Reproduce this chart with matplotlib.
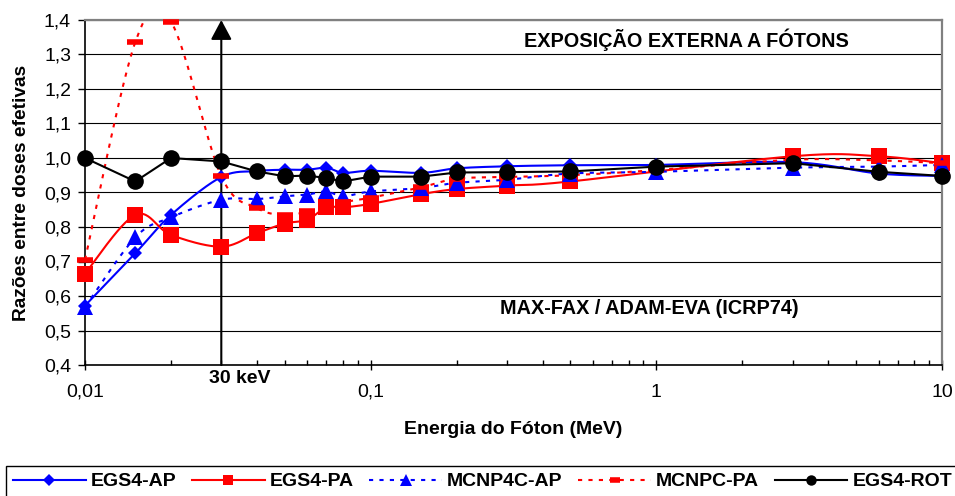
import numpy as np
import matplotlib
matplotlib.use('Agg')
import matplotlib.pyplot as plt
from matplotlib.lines import Line2D
from matplotlib.ticker import FixedLocator, LogLocator, FuncFormatter, NullFormatter

plt.rcParams['font.family'] = ['Liberation Sans', 'DejaVu Sans']

# photon energies (MeV)
energies = [0.01, 0.015, 0.02, 0.03, 0.04, 0.05, 0.06, 0.07, 0.08, 0.1,
            0.15, 0.2, 0.3, 0.5, 1, 3, 6, 10]

# dose ratios per series (nan = no value at that energy)
egs4_ap = [0.572, 0.724, 0.835, 0.945, 0.962, 0.966, 0.966, 0.972, 0.957, 0.963,
           0.957, 0.970, 0.976, 0.979, 0.980, 0.988, 0.955, 0.948]
egs4_pa = [0.665, 0.835, 0.777, 0.743, 0.782, 0.810, 0.821, 0.857, 0.857, 0.867,
           0.895, 0.910, 0.920, 0.932, np.nan, 1.005, 1.005, 0.985]
mcnp4c_ap = [0.568, 0.770, 0.828, 0.879, 0.881, 0.889, 0.894, 0.903, 0.889, 0.903,
             0.913, 0.928, 0.937, 0.955, 0.960, 0.972, 0.975, 0.980]
mcnpc_pa = [0.705, 1.336, 1.395, 0.947, 0.855, 0.835, 0.845, 0.865, 0.872, 0.885,
            0.915, 0.940, 0.945, 0.950, 0.965, 0.995, 0.993, 0.985]
egs4_rot = [1.000, 0.932, 1.000, 0.990, 0.961, 0.947, 0.949, 0.942, 0.932, 0.946,
            0.946, 0.958, 0.959, 0.961, 0.975, 0.985, 0.960, 0.948]

y_ticks = [0.4, 0.5, 0.6, 0.7, 0.8, 0.9, 1.0, 1.1, 1.2, 1.3, 1.4]
x_ticks = [0.01, 0.1, 1, 10]
x_tick_labels = ['0,01', '0,1', '1', '10']


def smooth(xs, ys, n=30):
    # bezier smoothing (catmull-rom style) done in log-x / linear-y space
    X = np.log10(xs) * 286.0
    Y = np.asarray(ys) * 345.0
    P = np.column_stack([X, Y])
    out = [P[0]]
    t = np.linspace(0, 1, n)[1:, None]
    for i in range(len(P) - 1):
        p0 = P[i - 1] if i > 0 else P[i]
        p1, p2 = P[i], P[i + 1]
        p3 = P[i + 2] if i + 2 < len(P) else P[i + 1]
        c1 = p1 + (p2 - p0) / 6.0
        c2 = p2 - (p3 - p1) / 6.0
        seg = (1 - t) ** 3 * p1 + 3 * (1 - t) ** 2 * t * c1 + 3 * (1 - t) * t ** 2 * c2 + t ** 3 * p2
        out.extend(seg)
    out = np.array(out)
    return 10 ** (out[:, 0] / 286.0), out[:, 1] / 345.0


dotted = (0, (2, 3))
series = [
    # label, values, color, linestyle, marker, size, legend size, smoothed
    ('EGS4-AP', egs4_ap, 'blue', '-', 'D', 7.6, 6.2, True),
    ('EGS4-PA', egs4_pa, 'red', '-', 's', 12, 7.5, True),
    ('MCNP4C-AP', mcnp4c_ap, 'blue', dotted, '^', 12, 8, True),
    ('MCNPC-PA', mcnpc_pa, 'red', dotted, '_', 11, 7, True),
    ('EGS4-ROT', egs4_rot, 'black', '-', 'o', 12, 7.5, False),
]

fig = plt.figure(figsize=(9.55, 4.96), dpi=100)
ax = fig.add_axes([85 / 955, 1 - 365 / 496, 857 / 955, 345 / 496])

handles = []
for i, (label, vals, color, ls, marker, ms, lms, smoothed) in enumerate(series):
    x = np.array(energies, dtype=float)
    y = np.array(vals, dtype=float)
    ok = ~np.isnan(y)
    x, y = x[ok], y[ok]
    if smoothed:
        sx, sy = smooth(x, y)
    else:
        sx, sy = x, y
    z = 3 + i
    ax.plot(sx, sy, color=color, linestyle=ls, linewidth=1.5, zorder=z)
    mew = 4 if marker == '_' else 0
    ax.plot(x, y, linestyle='none', marker=marker, markersize=ms, color=color,
            markeredgewidth=mew, markeredgecolor=color, zorder=z, clip_on=False)
    handles.append(Line2D([], [], color=color, linestyle=ls, linewidth=1.5,
                          marker=marker, markersize=lms, markeredgecolor=color,
                          markeredgewidth=(4 if marker == '_' else 0)))

# 30 keV marker arrow
ax.annotate('', xy=(0.03, 1.4), xytext=(0.03, 0.4),
            arrowprops=dict(arrowstyle='-|>,head_length=0.6,head_width=0.32',
                            color='black', lw=1.5, mutation_scale=20,
                            shrinkA=0, shrinkB=0),
            zorder=2, annotation_clip=False)
ax.text(0.181, -0.038, '30 keV', transform=ax.transAxes,
        ha='center', va='center', fontsize=14, fontweight='bold')

ax.text(0.702, 0.943, 'EXPOSIÇÃO EXTERNA A FÓTONS', transform=ax.transAxes,
        ha='center', va='center', fontsize=14.3, fontweight='bold')
ax.text(0.659, 0.165, 'MAX-FAX / ADAM-EVA (ICRP74)', transform=ax.transAxes,
        ha='center', va='center', fontsize=14.3, fontweight='bold')

ax.set_xscale('log')
ax.set_xlim(0.01, 10)
ax.set_ylim(0.4, 1.4)

ax.xaxis.set_major_locator(FixedLocator(x_ticks))
ax.xaxis.set_major_formatter(FuncFormatter(lambda v, p: x_tick_labels[x_ticks.index(v)] if v in x_ticks else ''))
ax.xaxis.set_minor_locator(LogLocator(base=10, subs=np.arange(2, 10)))
ax.xaxis.set_minor_formatter(NullFormatter())
ax.yaxis.set_major_locator(FixedLocator(y_ticks))
ax.yaxis.set_major_formatter(FuncFormatter(lambda v, p: f'{v:.1f}'.replace('.', ',')))

ax.tick_params(axis='x', which='major', direction='inout', length=7, width=1,
               pad=10, labelsize=14)
ax.tick_params(axis='x', which='minor', direction='in', length=3.6, width=1)
ax.tick_params(axis='y', which='major', direction='out', length=5, width=1,
               pad=5, labelsize=14)

ax.grid(axis='y', color='black', linewidth=0.8)
ax.set_axisbelow(True)

for side in ('left', 'bottom'):
    ax.spines[side].set_color('black')
    ax.spines[side].set_linewidth(1.2)
for side in ('top', 'right'):
    ax.spines[side].set_color('#808080')
    ax.spines[side].set_linewidth(1.6)

ax.set_ylabel('Razões entre doses efetivas', fontsize=13.8, fontweight='bold')
ax.yaxis.set_label_coords(-0.064, 0.5)
fig.text(513 / 955, 1 - 430 / 496, 'Energia do Fóton (MeV)', ha='center',
         va='center', fontsize=14, fontweight='bold')

leg = fig.legend(handles, [s[0] for s in series], loc='upper left',
                 bbox_to_anchor=(6 / 955, 1 - 466 / 496), ncol=5,
                 frameon=True, fancybox=False, edgecolor='black', framealpha=1,
                 borderpad=0.35, borderaxespad=0, handlelength=3.75,
                 handletextpad=0.25, columnspacing=0.8,
                 prop={'weight': 'bold', 'size': 14})
leg.get_frame().set_linewidth(1.0)

fig.savefig('out.png', dpi=100)
